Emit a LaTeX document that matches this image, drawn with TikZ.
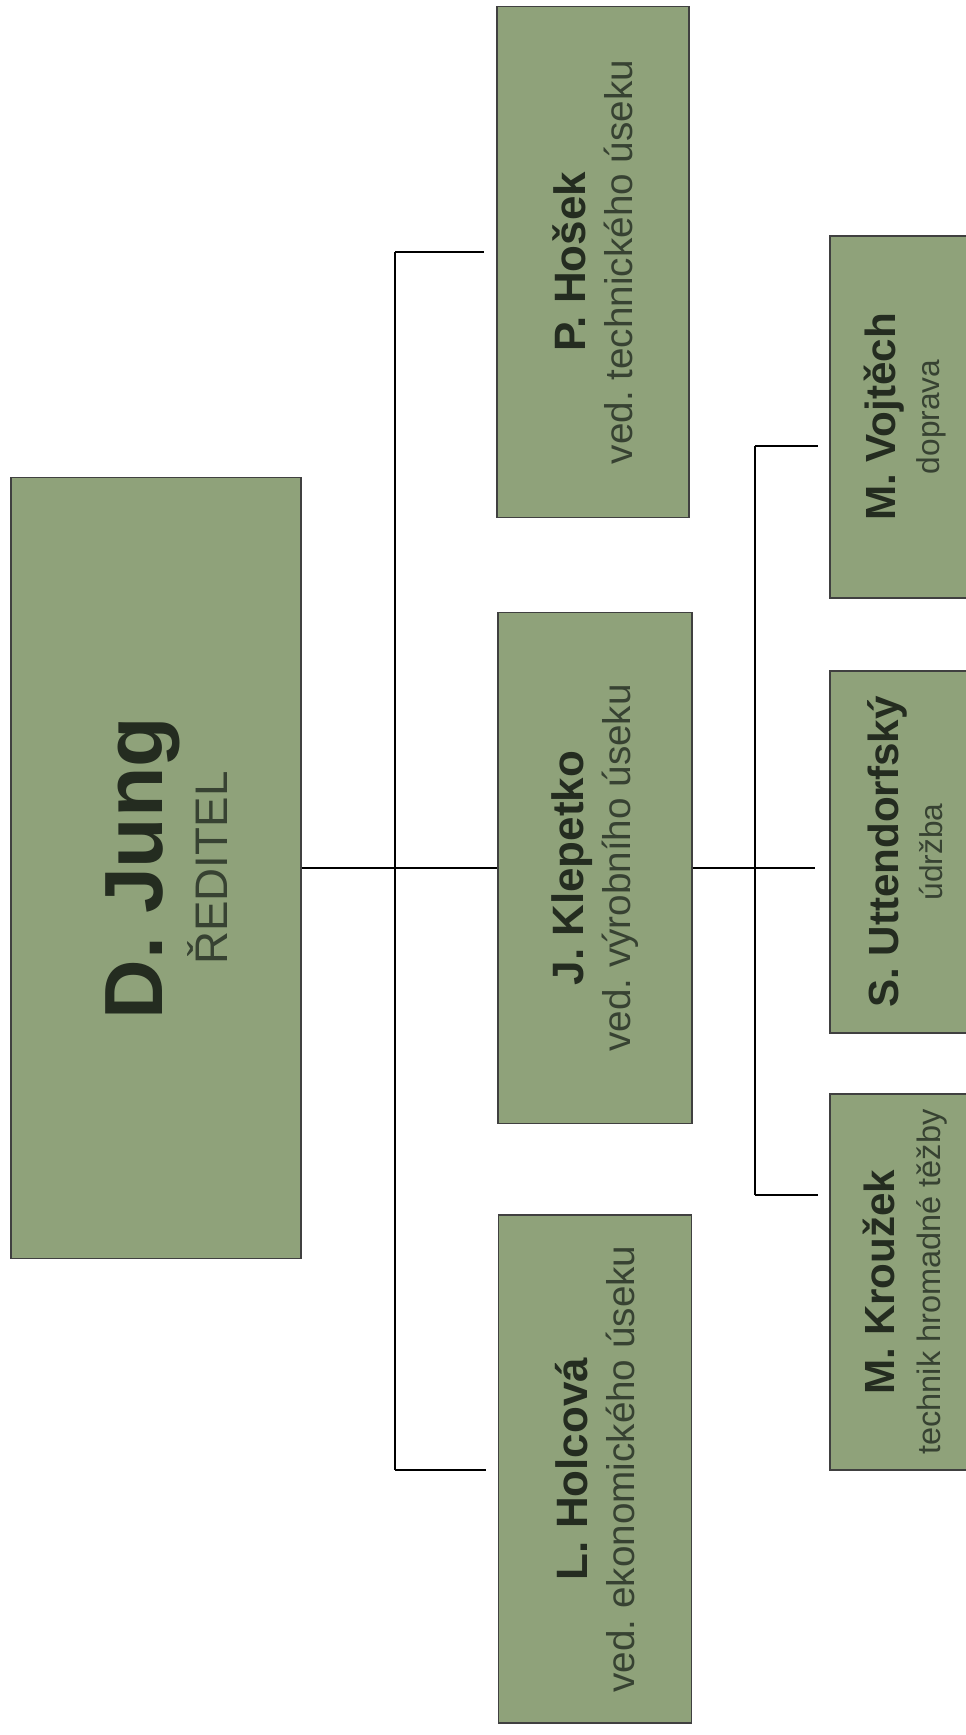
\documentclass[tikz,border=0pt]{standalone}
\usepackage{fontspec}
\setmainfont{Liberation Sans}
\frenchspacing
\definecolor{boxgreen}{RGB}{143,162,122}
\definecolor{nametext}{RGB}{36,44,32}
\definecolor{roletext}{RGB}{55,66,50}

\begin{document}
\begin{tikzpicture}[x=0.2mm, y=-0.2mm,
        box/.style={draw=black!75, line width=0.8pt, fill=boxgreen, rotate=90,
                    align=center, inner sep=0pt, text=roletext},
        link/.style={draw=black, line width=0.8pt}]

            \useasboundingbox (0,0) rectangle (965,1735);
            \fill[white] (0,0) rectangle (965,1735);

            % reditel
            \node[box, minimum width=156.2mm, minimum height=58mm,
                  font=\fontsize{26}{37}\selectfont] (dj) at (156,868)
                {\rule{0pt}{44pt}{\color{nametext}\fontsize{47}{47}\selectfont\bfseries D. Jung}\\
                 ŘEDITEL};

            % vedouci useku
            \node[box, minimum width=102.2mm, minimum height=38.4mm,
                  font=\fontsize{22}{27}\selectfont] (ph) at (593,262)
                {{\color{nametext}\fontsize{25}{25}\selectfont\bfseries P. Hošek}\\
                 ved. technického úseku};
            \node[box, minimum width=102.2mm, minimum height=38.8mm,
                  font=\fontsize{22}{27}\selectfont] (jk) at (595,868)
                {{\color{nametext}\fontsize{25}{25}\selectfont\bfseries J. Klepetko}\\
                 ved. výrobního úseku};
            \node[box, minimum width=101.6mm, minimum height=38.6mm,
                  font=\fontsize{22}{27}\selectfont] (lh) at (595,1469)
                {{\color{nametext}\fontsize{25}{25}\selectfont\bfseries L. Holcová}\\
                 ved. ekonomického úseku};

            % vyroba
            \node[box, minimum width=72.4mm, minimum height=30mm,
                  font=\fontsize{18}{25}\selectfont] (mv) at (905,417)
                {{\color{nametext}\fontsize{24}{24}\selectfont\bfseries M. Vojtěch}\\
                 doprava};
            \node[box, minimum width=72.4mm, minimum height=30mm,
                  font=\fontsize{18}{25}\selectfont] (su) at (905,852)
                {{\color{nametext}\fontsize{24}{24}\selectfont\bfseries S. Uttendorfský}\\
                 údržba};
            \node[box, minimum width=75.2mm, minimum height=30mm,
                  font=\fontsize{18.5}{26}\selectfont] (mk) at (905,1282)
                {{\color{nametext}\fontsize{24}{24}\selectfont\bfseries M. Kroužek}\\
                 technik hromadné těžby};

            % spoje
            \coordinate (b1) at (395,252);
            \coordinate (b2) at (395,1470);
            \draw[link] (dj.south) -- (jk.north);
            \draw[link] (b1) -- (b2);
            \draw[link, shorten >=2.4mm] (b1) -- (b1 -| ph.north);
            \draw[link, shorten >=2.4mm] (b2) -- (b2 -| lh.north);

            \coordinate (c1) at (755,446);
            \coordinate (c2) at (755,868);
            \coordinate (c3) at (755,1195);
            \draw[link, shorten >=2.8mm] (jk.south) -- (c2 -| su.north);
            \draw[link] (c1) -- (c3);
            \draw[link, shorten >=2.2mm] (c1) -- (c1 -| mv.north);
            \draw[link, shorten >=2.2mm] (c3) -- (c3 -| mk.north);

        \end{tikzpicture}
\end{document}
